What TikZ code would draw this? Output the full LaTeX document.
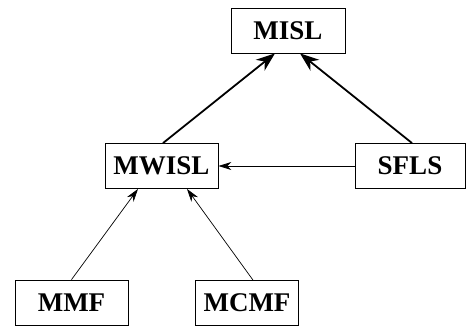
\documentclass[tikz,border=0pt]{standalone}
\usepackage{fontspec}
\setmainfont{Liberation Serif}
\usetikzlibrary{arrows.meta}
\begin{document}
\begin{tikzpicture}[x=1pt,y=-1pt,
  box/.style={draw,line width=0.8pt,minimum height=45pt,inner sep=0pt,font=\fontsize{27}{30}\selectfont\bfseries},
  thick arrow/.style={line width=1.8pt,-{Stealth[length=19pt,width=14pt,inset=6pt]}},
  thin arrow/.style={line width=0.7pt,-{Stealth[length=13pt,width=8pt,inset=4pt]}}]
\useasboundingbox (0,0) rectangle (466,329);
\node[box,minimum width=114pt] (misl) at (288,30.5) {MISL};
\node[box,minimum width=113pt] (mwisl) at (161.5,166) {MWISL};
\node[box,minimum width=110pt] (sfls) at (410,166) {SFLS};
\node[box,minimum width=113pt] (mmf) at (71.5,302.5) {MMF};
\node[box,minimum width=103pt] (mcmf) at (247,303) {MCMF};
\draw[thick arrow] ([xshift=1.5pt]mwisl.north) -- ([xshift=-13pt]misl.south);
\draw[thick arrow] ([xshift=2pt]sfls.north) -- ([xshift=12pt]misl.south);
\draw[thin arrow] (sfls.west) -- (mwisl.east);
\draw[thin arrow] (mmf.north) -- ([xshift=-23.5pt]mwisl.south);
\draw[thin arrow] ([xshift=6pt]mcmf.north) -- ([xshift=25.5pt]mwisl.south);
\end{tikzpicture}
\end{document}
